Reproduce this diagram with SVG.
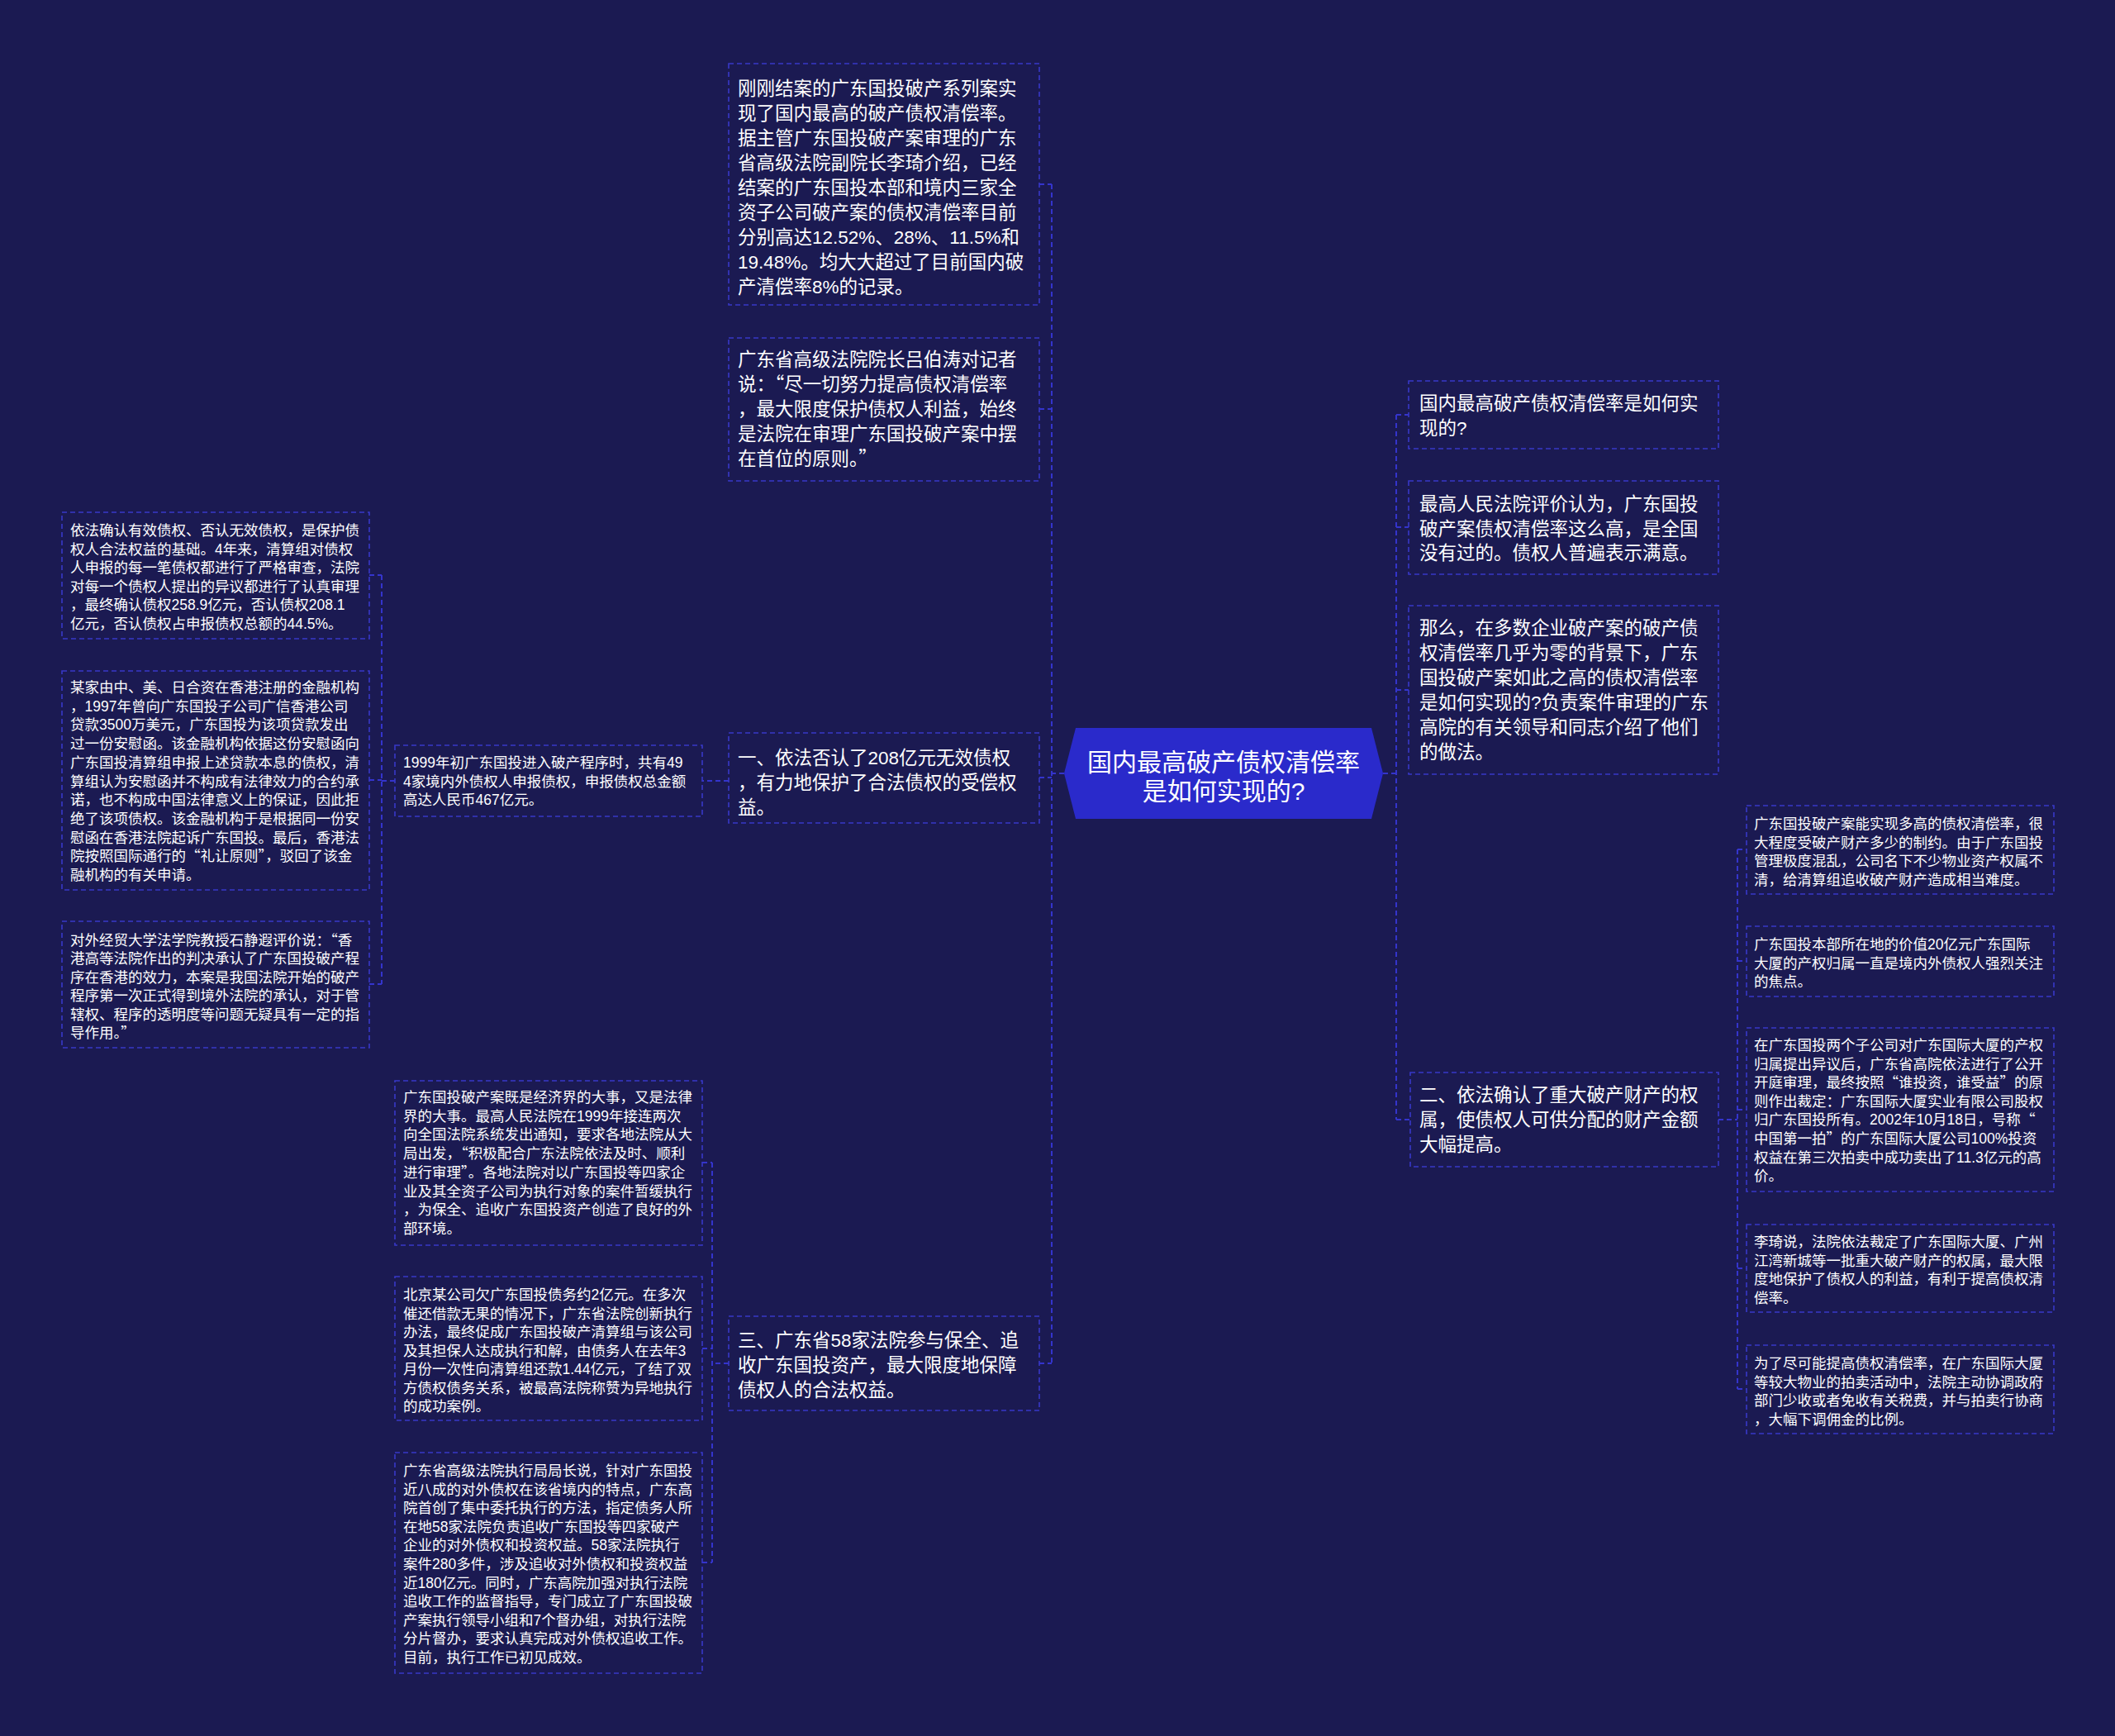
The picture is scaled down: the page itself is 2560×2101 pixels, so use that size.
<svg xmlns="http://www.w3.org/2000/svg" width="2560" height="2101" viewBox="0 0 2560 2101">
<style>
.bg{fill:#1b1a52}
.box{fill:none;stroke:#3838c8;stroke-width:1.6;stroke-dasharray:6 4}
.conn{fill:none;stroke:#3434cc;stroke-width:2;stroke-dasharray:6 4}
.t{font-family:"Liberation Sans","Noto Sans CJK SC",sans-serif;fill:#ffffff}
.q{font-family:"Noto Sans CJK SC","Noto Sans CJK JP",sans-serif}
.l{font-size:22.5px}
.s{font-size:17.5px}
.c{font-size:30px;text-anchor:middle}
.hex{fill:#2a2acb}
</style>
<rect class="bg" x="0" y="0" width="2560" height="2101"/>

<g id="connectors">
  <path class="conn" d="M1288,936 H1273 M1273,223 V1650 M1258,223 H1273 M1258,495 H1273 M1258,941 H1273 M1258,1650 H1273"/>
  <path class="conn" d="M882,945 H850"/>
  <path class="conn" d="M478,945 H462 M462,696 V1191 M447,696 H462 M447,944 H462 M447,1191 H462"/>
  <path class="conn" d="M882,1650 H862 M862,1407 V1891 M850,1407 H862 M850,1632 H862 M850,1891 H862"/>
  <path class="conn" d="M1674,936 H1690 M1690,502 V1355 M1690,502 H1705 M1690,638 H1705 M1690,835 H1705 M1690,1355 H1707"/>
  <path class="conn" d="M2080,1355 H2103 M2103,1028 V1681 M2103,1028 H2114 M2103,1163 H2114 M2103,1343 H2114 M2103,1535 H2114 M2103,1681 H2114"/>
</g>

<g id="center">
  <polygon class="hex" points="1288,936 1302,881 1660,881 1674,936 1660,991 1302,991"/>
  <text class="t c"><tspan x="1481" y="933">国内最高破产债权清偿率</tspan><tspan x="1481" y="968">是如何实现的?</tspan></text>
</g>

<g id="node-top1">
  <rect class="box" x="882" y="77" width="376" height="292"/>
  <text class="t l">
    <tspan x="893" y="115">刚刚结案的广东国投破产系列案实</tspan>
    <tspan x="893" y="145">现了国内最高的破产债权清偿率。</tspan>
    <tspan x="893" y="175">据主管广东国投破产案审理的广东</tspan>
    <tspan x="893" y="205">省高级法院副院长李琦介绍，已经</tspan>
    <tspan x="893" y="235">结案的广东国投本部和境内三家全</tspan>
    <tspan x="893" y="265">资子公司破产案的债权清偿率目前</tspan>
    <tspan x="893" y="295">分别高达12.52%、28%、11.5%和</tspan>
    <tspan x="893" y="325">19.48%。均大大超过了目前国内破</tspan>
    <tspan x="893" y="355">产清偿率8%的记录。</tspan>
  </text>
</g>

<g id="node-top2">
  <rect class="box" x="882" y="409" width="376" height="173"/>
  <text class="t l">
    <tspan x="893" y="443">广东省高级法院院长吕伯涛对记者</tspan>
    <tspan x="893" y="473">说：<tspan class="q">“</tspan>尽一切努力提高债权清偿率</tspan>
    <tspan x="893" y="503">，最大限度保护债权人利益，始终</tspan>
    <tspan x="893" y="533">是法院在审理广东国投破产案中摆</tspan>
    <tspan x="893" y="563">在首位的原则。<tspan class="q">”</tspan></tspan>
  </text>
</g>

<g id="node-branch1">
  <rect class="box" x="882" y="887" width="376" height="109"/>
  <text class="t l">
    <tspan x="893" y="925">一、依法否认了208亿元无效债权</tspan>
    <tspan x="893" y="955">，有力地保护了合法债权的受偿权</tspan>
    <tspan x="893" y="985">益。</tspan>
  </text>
</g>

<g id="node-b1-sub">
  <rect class="box" x="478" y="902" width="372" height="86"/>
  <text class="t s">
    <tspan x="488" y="929">1999年初广东国投进入破产程序时，共有49</tspan>
    <tspan x="488" y="952">4家境内外债权人申报债权，申报债权总金额</tspan>
    <tspan x="488" y="974">高达人民币467亿元。</tspan>
  </text>
</g>

<g id="node-left-a">
  <rect class="box" x="75" y="620" width="372" height="153"/>
  <text class="t s">
    <tspan x="85" y="648">依法确认有效债权、否认无效债权，是保护债</tspan>
    <tspan x="85" y="670.5">权人合法权益的基础。4年来，清算组对债权</tspan>
    <tspan x="85" y="693">人申报的每一笔债权都进行了严格审查，法院</tspan>
    <tspan x="85" y="715.5">对每一个债权人提出的异议都进行了认真审理</tspan>
    <tspan x="85" y="738">，最终确认债权258.9亿元，否认债权208.1</tspan>
    <tspan x="85" y="760.5">亿元，否认债权占申报债权总额的44.5%。</tspan>
  </text>
</g>

<g id="node-left-b">
  <rect class="box" x="75" y="812" width="372" height="265"/>
  <text class="t s">
    <tspan x="85" y="838">某家由中、美、日合资在香港注册的金融机构</tspan>
    <tspan x="85" y="860.7">，1997年曾向广东国投子公司广信香港公司</tspan>
    <tspan x="85" y="883.4">贷款3500万美元，广东国投为该项贷款发出</tspan>
    <tspan x="85" y="906.1">过一份安慰函。该金融机构依据这份安慰函向</tspan>
    <tspan x="85" y="928.8">广东国投清算组申报上述贷款本息的债权，清</tspan>
    <tspan x="85" y="951.5">算组认为安慰函并不构成有法律效力的合约承</tspan>
    <tspan x="85" y="974.2">诺，也不构成中国法律意义上的保证，因此拒</tspan>
    <tspan x="85" y="996.9">绝了该项债权。该金融机构于是根据同一份安</tspan>
    <tspan x="85" y="1019.6">慰函在香港法院起诉广东国投。最后，香港法</tspan>
    <tspan x="85" y="1042.3">院按照国际通行的<tspan class="q">“</tspan>礼让原则<tspan class="q">”</tspan>，驳回了该金</tspan>
    <tspan x="85" y="1065">融机构的有关申请。</tspan>
  </text>
</g>

<g id="node-left-c">
  <rect class="box" x="75" y="1115" width="372" height="153"/>
  <text class="t s">
    <tspan x="85" y="1144">对外经贸大学法学院教授石静遐评价说：<tspan class="q">“</tspan>香</tspan>
    <tspan x="85" y="1166.4">港高等法院作出的判决承认了广东国投破产程</tspan>
    <tspan x="85" y="1188.8">序在香港的效力，本案是我国法院开始的破产</tspan>
    <tspan x="85" y="1211.2">程序第一次正式得到境外法院的承认，对于管</tspan>
    <tspan x="85" y="1233.6">辖权、程序的透明度等问题无疑具有一定的指</tspan>
    <tspan x="85" y="1256">导作用。<tspan class="q">”</tspan></tspan>
  </text>
</g>

<g id="node-branch3">
  <rect class="box" x="882" y="1593" width="376" height="114"/>
  <text class="t l">
    <tspan x="893" y="1630">三、广东省58家法院参与保全、追</tspan>
    <tspan x="893" y="1660">收广东国投资产，最大限度地保障</tspan>
    <tspan x="893" y="1690">债权人的合法权益。</tspan>
  </text>
</g>

<g id="node-m1">
  <rect class="box" x="478" y="1308" width="372" height="199"/>
  <text class="t s">
    <tspan x="488" y="1334">广东国投破产案既是经济界的大事，又是法律</tspan>
    <tspan x="488" y="1356.7">界的大事。最高人民法院在1999年接连两次</tspan>
    <tspan x="488" y="1379.4">向全国法院系统发出通知，要求各地法院从大</tspan>
    <tspan x="488" y="1402.1">局出发，<tspan class="q">“</tspan>积极配合广东法院依法及时、顺利</tspan>
    <tspan x="488" y="1424.8">进行审理<tspan class="q">”</tspan>。各地法院对以广东国投等四家企</tspan>
    <tspan x="488" y="1447.5">业及其全资子公司为执行对象的案件暂缓执行</tspan>
    <tspan x="488" y="1470.2">，为保全、追收广东国投资产创造了良好的外</tspan>
    <tspan x="488" y="1492.9">部环境。</tspan>
  </text>
</g>

<g id="node-m2">
  <rect class="box" x="478" y="1545" width="372" height="174"/>
  <text class="t s">
    <tspan x="488" y="1573">北京某公司欠广东国投债务约2亿元。在多次</tspan>
    <tspan x="488" y="1595.5">催还借款无果的情况下，广东省法院创新执行</tspan>
    <tspan x="488" y="1618">办法，最终促成广东国投破产清算组与该公司</tspan>
    <tspan x="488" y="1640.5">及其担保人达成执行和解，由债务人在去年3</tspan>
    <tspan x="488" y="1663">月份一次性向清算组还款1.44亿元，了结了双</tspan>
    <tspan x="488" y="1685.5">方债权债务关系，被最高法院称赞为异地执行</tspan>
    <tspan x="488" y="1708">的成功案例。</tspan>
  </text>
</g>

<g id="node-m3">
  <rect class="box" x="478" y="1758" width="372" height="267"/>
  <text class="t s">
    <tspan x="488" y="1786">广东省高级法院执行局局长说，针对广东国投</tspan>
    <tspan x="488" y="1808.6">近八成的对外债权在该省境内的特点，广东高</tspan>
    <tspan x="488" y="1831.2">院首创了集中委托执行的方法，指定债务人所</tspan>
    <tspan x="488" y="1853.8">在地58家法院负责追收广东国投等四家破产</tspan>
    <tspan x="488" y="1876.4">企业的对外债权和投资权益。58家法院执行</tspan>
    <tspan x="488" y="1899">案件280多件，涉及追收对外债权和投资权益</tspan>
    <tspan x="488" y="1921.6">近180亿元。同时，广东高院加强对执行法院</tspan>
    <tspan x="488" y="1944.2">追收工作的监督指导，专门成立了广东国投破</tspan>
    <tspan x="488" y="1966.8">产案执行领导小组和7个督办组，对执行法院</tspan>
    <tspan x="488" y="1989.4">分片督办，要求认真完成对外债权追收工作。</tspan>
    <tspan x="488" y="2012">目前，执行工作已初见成效。</tspan>
  </text>
</g>

<g id="node-r1">
  <rect class="box" x="1705" y="461" width="375" height="82"/>
  <text class="t l">
    <tspan x="1718" y="496">国内最高破产债权清偿率是如何实</tspan>
    <tspan x="1718" y="526">现的?</tspan>
  </text>
</g>

<g id="node-r2">
  <rect class="box" x="1705" y="582" width="375" height="113"/>
  <text class="t l">
    <tspan x="1718" y="618">最高人民法院评价认为，广东国投</tspan>
    <tspan x="1718" y="647.5">破产案债权清偿率这么高，是全国</tspan>
    <tspan x="1718" y="677">没有过的。债权人普遍表示满意。</tspan>
  </text>
</g>

<g id="node-r3">
  <rect class="box" x="1705" y="733" width="375" height="204"/>
  <text class="t l">
    <tspan x="1718" y="768">那么，在多数企业破产案的破产债</tspan>
    <tspan x="1718" y="798">权清偿率几乎为零的背景下，广东</tspan>
    <tspan x="1718" y="828">国投破产案如此之高的债权清偿率</tspan>
    <tspan x="1718" y="858">是如何实现的?负责案件审理的广东</tspan>
    <tspan x="1718" y="888">高院的有关领导和同志介绍了他们</tspan>
    <tspan x="1718" y="918">的做法。</tspan>
  </text>
</g>

<g id="node-branch2">
  <rect class="box" x="1707" y="1298" width="373" height="114"/>
  <text class="t l">
    <tspan x="1718" y="1333">二、依法确认了重大破产财产的权</tspan>
    <tspan x="1718" y="1363">属，使债权人可供分配的财产金额</tspan>
    <tspan x="1718" y="1393">大幅提高。</tspan>
  </text>
</g>

<g id="node-f1">
  <rect class="box" x="2114" y="975" width="372" height="107"/>
  <text class="t s">
    <tspan x="2123" y="1003">广东国投破产案能实现多高的债权清偿率，很</tspan>
    <tspan x="2123" y="1025.5">大程度受破产财产多少的制约。由于广东国投</tspan>
    <tspan x="2123" y="1048">管理极度混乱，公司名下不少物业资产权属不</tspan>
    <tspan x="2123" y="1070.5">清，给清算组追收破产财产造成相当难度。</tspan>
  </text>
</g>

<g id="node-f2">
  <rect class="box" x="2114" y="1121" width="372" height="85"/>
  <text class="t s">
    <tspan x="2123" y="1149">广东国投本部所在地的价值20亿元广东国际</tspan>
    <tspan x="2123" y="1171.5">大厦的产权归属一直是境内外债权人强烈关注</tspan>
    <tspan x="2123" y="1194">的焦点。</tspan>
  </text>
</g>

<g id="node-f3">
  <rect class="box" x="2114" y="1244" width="372" height="198"/>
  <text class="t s">
    <tspan x="2123" y="1271">在广东国投两个子公司对广东国际大厦的产权</tspan>
    <tspan x="2123" y="1293.6">归属提出异议后，广东省高院依法进行了公开</tspan>
    <tspan x="2123" y="1316.2">开庭审理，最终按照<tspan class="q">“</tspan>谁投资，谁受益<tspan class="q">”</tspan>的原</tspan>
    <tspan x="2123" y="1338.8">则作出裁定：广东国际大厦实业有限公司股权</tspan>
    <tspan x="2123" y="1361.4">归广东国投所有。2002年10月18日，号称<tspan class="q">“</tspan></tspan>
    <tspan x="2123" y="1384">中国第一拍<tspan class="q">”</tspan>的广东国际大厦公司100%投资</tspan>
    <tspan x="2123" y="1406.6">权益在第三次拍卖中成功卖出了11.3亿元的高</tspan>
    <tspan x="2123" y="1429.2">价。</tspan>
  </text>
</g>

<g id="node-f4">
  <rect class="box" x="2114" y="1482" width="372" height="106"/>
  <text class="t s">
    <tspan x="2123" y="1509">李琦说，法院依法裁定了广东国际大厦、广州</tspan>
    <tspan x="2123" y="1531.6">江湾新城等一批重大破产财产的权属，最大限</tspan>
    <tspan x="2123" y="1554.2">度地保护了债权人的利益，有利于提高债权清</tspan>
    <tspan x="2123" y="1576.8">偿率。</tspan>
  </text>
</g>

<g id="node-f5">
  <rect class="box" x="2114" y="1628" width="372" height="107"/>
  <text class="t s">
    <tspan x="2123" y="1656">为了尽可能提高债权清偿率，在广东国际大厦</tspan>
    <tspan x="2123" y="1678.6">等较大物业的拍卖活动中，法院主动协调政府</tspan>
    <tspan x="2123" y="1701.2">部门少收或者免收有关税费，并与拍卖行协商</tspan>
    <tspan x="2123" y="1723.8">，大幅下调佣金的比例。</tspan>
  </text>
</g>
</svg>
